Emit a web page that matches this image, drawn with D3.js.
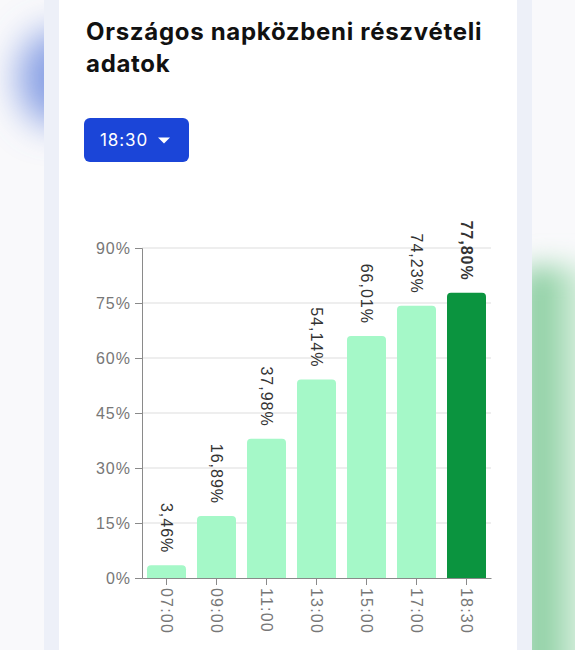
<!DOCTYPE html>
<html>
<head>
<meta charset="utf-8">
<script src="https://cdn.jsdelivr.net/npm/d3@7"></script>
<style>
  html, body { margin: 0; padding: 0; background: #f9f9fb; overflow: hidden; }
</style>
</head>
<body>
<script>
// Data
const times = ["07:00", "09:00", "11:00", "13:00", "15:00", "17:00", "18:30"];
const shares = [3.46, 16.89, 37.98, 54.14, 66.01, 74.23, 77.8];
const yTicks = [0, 15, 30, 45, 60, 75, 90];
const selectedTime = "18:30";
const titleLines = ["Országos napközbeni részvételi", "adatok"];

const width = 575;
const height = 650;

const svg = d3
  .select("body")
  .append("svg")
  .attr("width", width)
  .attr("height", height)
  .attr("viewBox", `0 0 ${width} ${height}`);

const defs = svg.append("defs");

// Background blobs

defs
  .append("filter")
  .attr("id", "blur")
  .attr("x", "-50%")
  .attr("y", "-50%")
  .attr("width", "200%")
  .attr("height", "200%")
  .append("feGaussianBlur")
  .attr("stdDeviation", 14);

defs
  .append("filter")
  .attr("id", "softBlur")
  .attr("x", "-80%")
  .attr("y", "-80%")
  .attr("width", "260%")
  .attr("height", "260%")
  .append("feGaussianBlur")
  .attr("stdDeviation", 18);

defs
  .append("clipPath")
  .attr("id", "leftClip")
  .append("rect")
  .attr("x", 0)
  .attr("y", 0)
  .attr("width", 44)
  .attr("height", height);

defs
  .append("clipPath")
  .attr("id", "rightClip")
  .append("rect")
  .attr("x", 532)
  .attr("y", 0)
  .attr("width", width - 532)
  .attr("height", height);

svg.append("rect").attr("width", width).attr("height", height).attr("fill", "#f9f9fb");

svg
  .append("g")
  .attr("clip-path", "url(#leftClip)")
  .append("ellipse")
  .attr("cx", 56)
  .attr("cy", 78)
  .attr("rx", 38)
  .attr("ry", 48)
  .attr("fill", "#6a8ade")
  .attr("fill-opacity", 0.8)
  .attr("filter", "url(#softBlur)");

const greenGrad = defs
  .append("linearGradient")
  .attr("id", "greenGrad");
greenGrad.append("stop").attr("offset", "0").attr("stop-color", "#6cc189");
greenGrad.append("stop").attr("offset", "0.5").attr("stop-color", "#a8dcb8");
greenGrad.append("stop").attr("offset", "1").attr("stop-color", "#e6f5eb");

svg
  .append("g")
  .attr("clip-path", "url(#rightClip)")
  .append("rect")
  .attr("x", 522)
  .attr("y", 266)
  .attr("width", 70)
  .attr("height", 420)
  .attr("rx", 14)
  .attr("fill", "url(#greenGrad)")
  .attr("filter", "url(#blur)");

// Card

svg.append("rect").attr("x", 44).attr("y", 0).attr("width", 488).attr("height", height).attr("fill", "#edf0f8");
svg.append("rect").attr("x", 59).attr("y", 0).attr("width", 458).attr("height", height).attr("fill", "#ffffff");

// Title

svg
  .append("text")
  .attr("font-family", "Inter, 'Noto Sans', sans-serif")
  .attr("font-weight", 700)
  .attr("font-size", 24)
  .attr("letter-spacing", 0.7)
  .attr("fill", "#111111")
  .selectAll("tspan")
  .data(titleLines)
  .join("tspan")
  .attr("x", 86)
  .attr("y", (_, i) => 40 + i * 32)
  .text((d) => d);

// Dropdown button

const button = svg.append("g").attr("transform", "translate(84, 118)");
button
  .append("rect")
  .attr("width", 105)
  .attr("height", 44)
  .attr("rx", 6)
  .attr("fill", "#1b45d8");
button
  .append("text")
  .attr("x", 16)
  .attr("y", 27.5)
  .attr("font-family", "Inter, sans-serif")
  .attr("font-size", 17)
  .attr("letter-spacing", 0.9)
  .attr("fill", "#ffffff")
  .text(selectedTime);
button
  .append("path")
  .attr("d", "M74,19.5 L86,19.5 L80,25.5 Z")
  .attr("fill", "#ffffff");

// Chart

const chartLeft = 142;
const chartRight = 491;
const chartTop = 248;
const chartBottom = 578;

const x = d3
  .scaleBand()
  .domain(times)
  .range([chartLeft, chartRight])
  .paddingInner(0.22)
  .paddingOuter(0.1);

const y = d3.scaleLinear().domain([0, 90]).range([chartBottom, chartTop]);

const chartFont = "'Liberation Sans', Arial, sans-serif";

// Grid
svg
  .append("g")
  .selectAll("line")
  .data(yTicks.filter((d) => d > 0))
  .join("line")
  .attr("x1", chartLeft)
  .attr("x2", chartRight)
  .attr("y1", (d) => y(d))
  .attr("y2", (d) => y(d))
  .attr("stroke", "#dddddd")
  .attr("stroke-width", 1);

// Y axis
const yAxis = svg
  .append("g")
  .attr("transform", `translate(${chartLeft}, 0)`)
  .call(
    d3
      .axisLeft(y)
      .tickValues(yTicks)
      .tickSize(7)
      .tickPadding(4)
      .tickFormat((d) => `${d}%`)
  );
yAxis.select(".domain").attr("stroke", "#8a8a8a");
yAxis.selectAll(".tick line").attr("stroke", "#8a8a8a");
yAxis
  .selectAll(".tick text")
  .attr("font-family", chartFont)
  .attr("font-size", 16)
  .attr("letter-spacing", 1)
  .attr("fill", "#777777");

// Bars
const barRadius = 4;
svg
  .append("g")
  .selectAll("path")
  .data(times)
  .join("path")
  .attr("d", (d, i) => {
    const x0 = x(d);
    const x1 = x0 + x.bandwidth();
    const y0 = y(shares[i]);
    const r = Math.min(barRadius, chartBottom - y0);
    return `M${x0},${chartBottom} L${x0},${y0 + r} Q${x0},${y0} ${x0 + r},${y0} L${x1 - r},${y0} Q${x1},${y0} ${x1},${y0 + r} L${x1},${chartBottom} Z`;
  })
  .attr("fill", (d) => (d === selectedTime ? "#0b943f" : "#a5f8c8"));

// X axis
const xAxis = svg
  .append("g")
  .attr("transform", `translate(0, ${chartBottom})`)
  .call(d3.axisBottom(x).tickSize(7).tickSizeOuter(0).tickPadding(0));
xAxis.select(".domain").attr("stroke", "#8a8a8a");
xAxis.selectAll(".tick line").attr("stroke", "#8a8a8a");
xAxis
  .selectAll(".tick text")
  .attr("font-family", chartFont)
  .attr("font-size", 16)
  .attr("letter-spacing", 1.2)
  .attr("fill", "#777777")
  .attr("text-anchor", "start")
  .attr("dominant-baseline", "central")
  .attr("dy", null)
  .attr("y", 0)
  .attr("transform", "translate(0, 10) rotate(90)");

// Value labels
svg
  .append("g")
  .selectAll("text")
  .data(times)
  .join("text")
  .attr(
    "transform",
    (d, i) => `translate(${x(d) + x.bandwidth() / 2}, ${y(shares[i]) - 12}) rotate(90)`
  )
  .attr("text-anchor", "end")
  .attr("dominant-baseline", "central")
  .attr("font-family", chartFont)
  .attr("font-size", 16)
  .attr("letter-spacing", 1)
  .attr("font-weight", (d) => (d === selectedTime ? 700 : 400))
  .attr("fill", "#333333")
  .text((d, i) => `${shares[i].toFixed(2).replace(".", ",")}%`);
</script>
</body>
</html>
